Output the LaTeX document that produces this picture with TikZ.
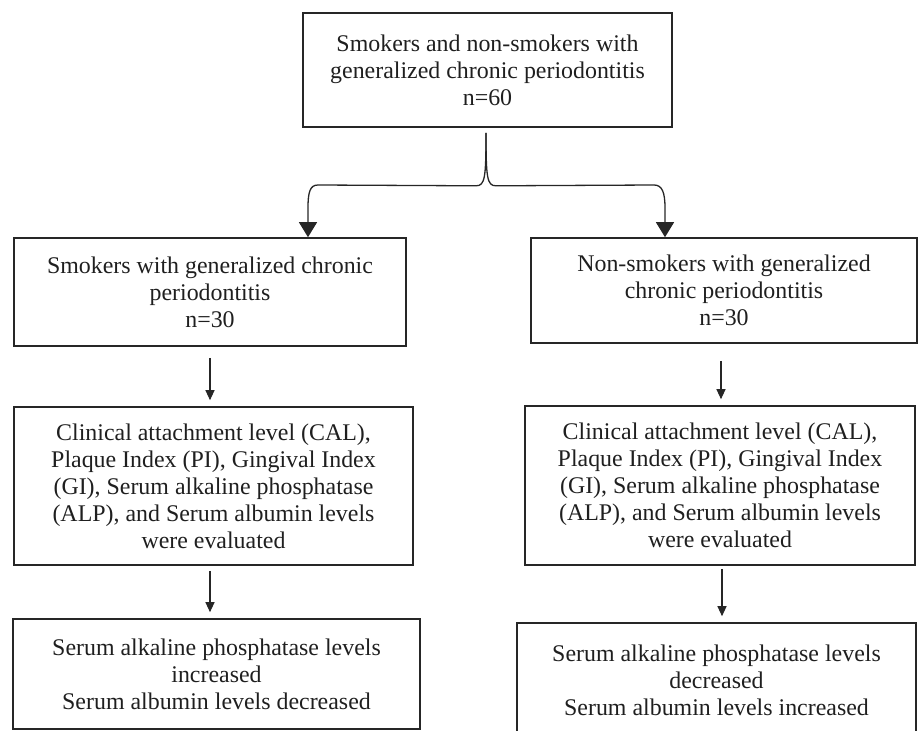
\documentclass[tikz,border=0pt]{standalone}
\usepackage{fontspec}
\setmainfont{Liberation Serif}
\usetikzlibrary{arrows.meta,calc}
\begin{document}
\begin{tikzpicture}[x=1pt,y=-1pt,
  box/.style={draw=black!85,line width=1.6pt,rectangle,align=center,inner sep=0pt,
    font=\fontsize{23.9}{27}\selectfont,text=black!88},
  bigarr/.style={draw=black!85,line width=1.3pt,-{Triangle[width=18pt,length=15pt]}},
  smallarr/.style={draw=black!85,line width=1.1pt,-{Triangle[width=9pt,length=10pt]}}]
\useasboundingbox (0,0) rectangle (922,731);
\node[box,minimum width=369pt,minimum height=114pt] (top) at (487.5,70)
  {Smokers and non-smokers with\\generalized chronic periodontitis\\n=60};
\node[box,minimum width=392pt,minimum height=108pt] (sm) at (210,292)
  {Smokers with generalized chronic\\periodontitis\\n=30};
\node[box,minimum width=386pt,minimum height=105pt] (ns) at (724,290.5)
  {Non-smokers with generalized\\chronic periodontitis\\n=30};
\node[box,minimum width=399pt,minimum height=158pt] (calL) at (213.5,486)
  {Clinical attachment level (CAL),\\Plaque Index (PI), Gingival Index\\(GI), Serum alkaline phosphatase\\(ALP), and Serum albumin levels\\were evaluated};
\node[box,minimum width=390pt,minimum height=159pt] (calR) at (720,485.5)
  {Clinical attachment level (CAL),\\Plaque Index (PI), Gingival Index\\(GI), Serum alkaline phosphatase\\(ALP), and Serum albumin levels\\were evaluated};
\node[box,minimum width=407pt,minimum height=110pt] (botL) at (216.5,674)
  {Serum alkaline phosphatase levels\\increased\\Serum albumin levels decreased};
\node[box,minimum width=399pt,minimum height=114pt] (botR) at (716.5,680)
  {Serum alkaline phosphatase levels\\decreased\\Serum albumin levels increased};
% split connector
\coordinate (tip) at ($(top.south)+(-1.5,5)$);
\coordinate (lend) at (308,0 |- sm.north);
\coordinate (rend) at (665,0 |- ns.north);
\draw[bigarr] (tip) .. controls ($(tip)+(0,45)$) and ($(tip)+(-1,53)$) .. ($(tip)+(-10,53)$)
  -- (318,185) .. controls (310,185) and (308,192) .. (308,208) -- (lend);
\draw[bigarr] (tip) .. controls ($(tip)+(0,45)$) and ($(tip)+(1,53)$) .. ($(tip)+(10,53)$)
  -- (654,185) .. controls (662,185) and (665,192) .. (665,208) -- (rend);
% vertical arrows
\coordinate (a2) at (721,0 |- calR.north);
\draw[smallarr] ($(sm.south)+(0,11)$) -- ($(sm.south |- calL.north)+(0,-6)$);
\draw[smallarr] ($(ns.south)+(-3,17)$) -- ($(a2)+(0,-6)$);
\draw[smallarr] ($(calL.south)+(-3.5,5)$) -- ($(calL.south |- botL.north)+(-3.5,-6)$);
\draw[smallarr] ($(calR.south)+(2,3)$) -- ($(calR.south |- botR.north)+(2,-6)$);
\end{tikzpicture}
\end{document}
